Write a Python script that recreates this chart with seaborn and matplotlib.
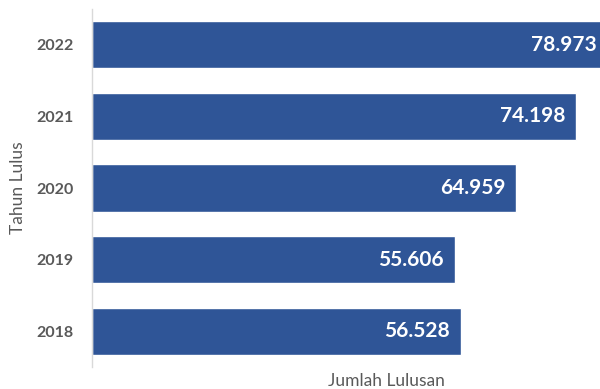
import matplotlib
matplotlib.use("Agg")
import matplotlib.pyplot as plt
import seaborn as sns
import pandas as pd
from matplotlib import transforms

years = ["2022", "2021", "2020", "2019", "2018"]
values = [78.973, 74.198, 64.959, 55.606, 56.528]
labels = ["78.973", "74.198", "64.959", "55.606", "56.528"]

sns.set_theme(style="white")
plt.rcParams['font.family'] = ['Lato', 'DejaVu Sans']

df = pd.DataFrame({"Tahun Lulus": years, "Jumlah Lulusan": values})

fig = plt.figure(figsize=(6.0, 3.89), dpi=100)
ax = fig.add_axes([92/600, 1-367/389, 1-92/600, (367-9)/389])

sns.barplot(data=df, y="Tahun Lulus", x="Jumlah Lulusan", order=years,
            orient="h", color="#2F5597", saturation=1, width=0.66, ax=ax)

ax.set_xlim(0, 77.8)
ax.set_ylim(4.5, -0.5)

offset = transforms.ScaledTranslation(-11/100, 0, fig.dpi_scale_trans)
for i, (v, lab) in enumerate(zip(values, labels)):
    ax.text(v, i, lab, ha="right", va="center", color="white",
            fontsize=15, fontweight="bold", transform=ax.transData + offset,
            clip_on=False)

ax.set_xticks([])
ax.tick_params(axis="y", length=0, pad=13, labelsize=11.5, labelcolor="#595959")
for t in ax.get_yticklabels():
    t.set_fontweight("bold")

for s in ["top", "right", "bottom"]:
    ax.spines[s].set_visible(False)
ax.spines["left"].set_color("#D9D9D9")
ax.spines["left"].set_linewidth(1)

ax.set_ylabel("Tahun Lulus", fontsize=12.5, color="#595959")
ax.yaxis.set_label_coords(-(92-18)/508, 0.5)
ax.set_xlabel("Jumlah Lulusan", fontsize=12.5, color="#595959")
ax.xaxis.set_label_coords((386-92)/508, -(381-367)/358)
ax.xaxis.label.set_va("center")
ax.yaxis.label.set_va("center")

fig.savefig("out.png", dpi=100)
